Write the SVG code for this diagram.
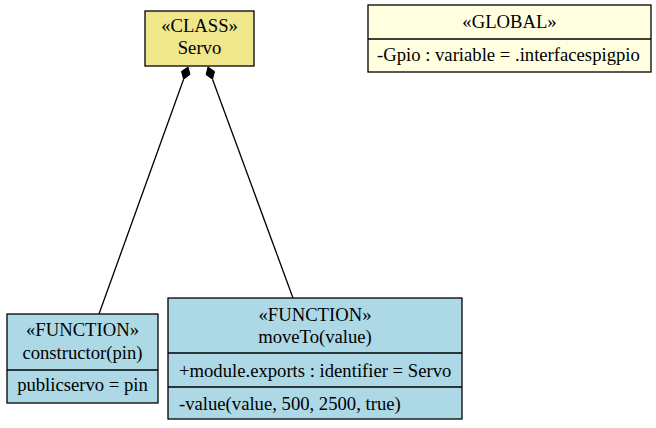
<svg xmlns="http://www.w3.org/2000/svg" width="656" height="428" viewBox="0 0 656 428">
<style>
  .box{stroke:#000;stroke-width:1.3}
  .sep{stroke:#000;stroke-width:1.3}
  .edge{fill:none;stroke:#000;stroke-width:1.3}
  .dia{fill:#000;stroke:#000;stroke-width:1}
</style>
<rect width="656" height="428" fill="#fff"/>
<g id="connectors">
  <path class="edge" d="M99,314 L183.6,79.2"/>
  <polygon class="dia" points="188,67 190.0,74.4 183.6,79.2 181.5,71.4"/>
  <path class="edge" d="M293,298 L212.5,79.2"/>
  <polygon class="dia" points="208,67 214.5,71.5 212.5,79.2 206.1,74.7"/>
</g>
<g font-family="'Liberation Serif','Times New Roman',serif" font-size="18.67" fill="#000">
<g id="servo">
  <rect class="box" x="145" y="11" width="109" height="55" fill="#f0e68c"/>
  <text x="199.5" y="32" text-anchor="middle">«CLASS»</text>
  <text x="199.5" y="54" text-anchor="middle">Servo</text>
</g>
<g id="global">
  <rect class="box" x="368" y="5" width="283" height="67" fill="#ffffe0"/>
  <line class="sep" x1="368" y1="39" x2="651" y2="39"/>
  <text x="509.5" y="27.5" text-anchor="middle">«GLOBAL»</text>
  <text x="377" y="61">-Gpio : variable = .interfacespigpio</text>
</g>
<g id="constructor">
  <rect class="box" x="7" y="314" width="151" height="89" fill="#add8e6"/>
  <line class="sep" x1="7" y1="370" x2="158" y2="370"/>
  <text x="82.5" y="335.5" text-anchor="middle">«FUNCTION»</text>
  <text x="82.5" y="358.5" text-anchor="middle">constructor(pin)</text>
  <text x="82.5" y="391" text-anchor="middle">publicservo = pin</text>
</g>
<g id="moveTo">
  <rect class="box" x="168" y="298" width="294" height="121" fill="#add8e6"/>
  <line class="sep" x1="168" y1="353" x2="462" y2="353"/>
  <line class="sep" x1="168" y1="387" x2="462" y2="387"/>
  <text x="315" y="320.5" text-anchor="middle">«FUNCTION»</text>
  <text x="315" y="342.5" text-anchor="middle">moveTo(value)</text>
  <text x="179" y="376.5">+module.exports : identifier = Servo</text>
  <text x="179" y="410">-value(value, 500, 2500, true)</text>
</g>
</g>
</svg>
